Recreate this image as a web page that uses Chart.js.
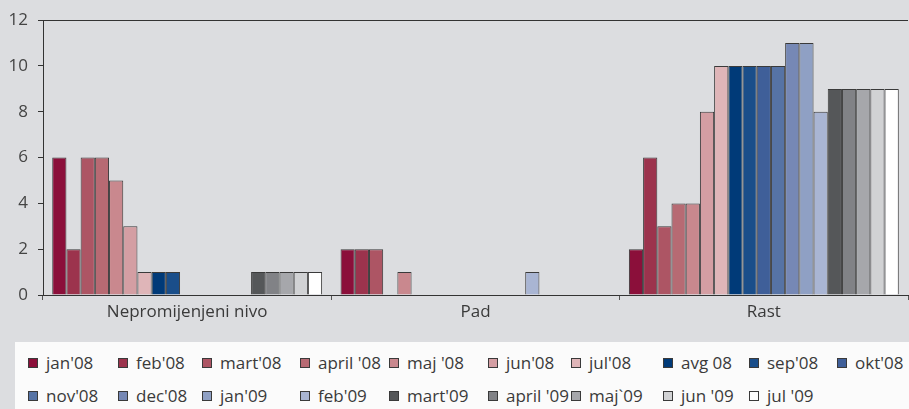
<!DOCTYPE html>
<html>
<head>
<meta charset="utf-8">
<script src="https://cdn.jsdelivr.net/npm/chart.js@4.4.1/dist/chart.umd.min.js"></script>
<style>
  html, body { margin: 0; padding: 0; background: #dcdde0; }
  body { width: 909px; height: 409px; overflow: hidden; position: relative; font-family: "Open Sans", sans-serif; }
  #wrap { position: absolute; left: 0; top: 0; width: 909px; height: 341px; }
  #legend { position: absolute; left: 15px; top: 342px; width: 894px; height: 67px; background: #fbfbfb; box-sizing: border-box; padding: 4px 0 0 13px; }
  #legend ul { list-style: none; margin: 0; padding: 0; display: grid;
    grid-template-columns: 90px 84px 98px 89px 99px 83px 92px 86px 88px 1fr; grid-auto-rows: 33px; }
  #legend li { display: flex; align-items: center; font-size: 17px; color: #3a3a3a; white-space: nowrap; }
  #legend li span.box { flex: 0 0 auto; display: inline-block; width: 8px; height: 8px; border: 1px solid #3a3a3a; margin-right: 8px; }
</style>
</head>
<body>
<div id="wrap"><canvas id="chart"></canvas></div>
<div id="legend"></div>
<script>
const categories = ['Nepromijenjeni nivo', 'Pad', 'Rast'];
const seriesNames = ["jan'08", "feb'08", "mart'08", "april '08", "maj '08", "jun'08", "jul'08", "avg 08", "sep'08", "okt'08",
                     "nov'08", "dec'08", "jan'09", "feb'09", "mart'09", "april '09", "maj`09", "jun '09", "jul '09"];
// values per series: [Nepromijenjeni nivo, Pad, Rast]
const jan08 = [6, 2, 2];
const feb08 = [2, 2, 6];
const mart08 = [6, 2, 3];
const april08 = [6, 0, 4];
const maj08 = [5, 1, 4];
const jun08 = [3, 0, 8];
const jul08 = [1, 0, 10];
const avg08 = [1, 0, 10];
const sep08 = [1, 0, 10];
const okt08 = [0, 0, 10];
const nov08 = [0, 0, 10];
const dec08 = [0, 0, 11];
const jan09 = [0, 0, 11];
const feb09 = [0, 1, 8];
const mart09 = [1, 0, 9];
const april09 = [1, 0, 9];
const maj09 = [1, 0, 9];
const jun09 = [1, 0, 9];
const jul09 = [1, 0, 9];
const yTicks = [0, 2, 4, 6, 8, 10, 12];

const seriesValues = [jan08, feb08, mart08, april08, maj08, jun08, jul08, avg08, sep08, okt08,
                      nov08, dec08, jan09, feb09, mart09, april09, maj09, jun09, jul09];
const colors = ['#8b0f3a', '#9c334d', '#ad5564', '#b76a73', '#c9888e', '#d49ea3', '#dfb5b8',
                '#003a78', '#1a4e8a', '#3f5f99', '#5673a5', '#7688b5', '#8fa0c4', '#a9b5d3',
                '#555759', '#818286', '#a6a7ab', '#d1d2d4', '#ffffff'];

const htmlLegend = {
  id: 'htmlLegend',
  afterUpdate(chart) {
    const box = document.getElementById('legend');
    box.innerHTML = '';
    const ul = document.createElement('ul');
    chart.data.datasets.forEach(ds => {
      const li = document.createElement('li');
      const sq = document.createElement('span');
      sq.className = 'box';
      sq.style.background = ds.backgroundColor;
      li.appendChild(sq);
      li.appendChild(document.createTextNode(ds.label));
      ul.appendChild(li);
    });
    box.appendChild(ul);
  }
};

const font = { family: '"Open Sans", sans-serif', size: 17 };

new Chart(document.getElementById('chart'), {
  type: 'bar',
  data: {
    labels: categories,
    datasets: seriesNames.map((name, i) => ({
      label: name,
      data: seriesValues[i],
      backgroundColor: colors[i],
      borderColor: '#3a3a3a',
      borderWidth: 1,
      categoryPercentage: 0.936,
      barPercentage: 1
    }))
  },
  options: {
    responsive: true,
    maintainAspectRatio: false,
    animation: false,
    layout: { padding: { top: 18, left: 0, right: 1, bottom: 0 } },
    plugins: { legend: { display: false }, tooltip: { enabled: false } },
    scales: {
      x: {
        grid: { drawOnChartArea: false, tickLength: 5, tickColor: '#555', offset: true },
        border: { color: '#333', width: 1 },
        ticks: { color: '#3a3a3a', font: font, padding: 2 },
        afterFit: s => { s.height = 46; }
      },
      y: {
        min: 0, max: 12,
        afterBuildTicks: s => { s.ticks = yTicks.map(v => ({ value: v })); },
        grid: {
          color: c => (c.tick && c.tick.value === 12) ? '#333' : 'rgba(0,0,0,0)',
          tickColor: '#333', tickLength: 5
        },
        border: { color: '#333', width: 1 },
        ticks: { color: '#444', font: font, padding: 10 },
        afterFit: s => { s.width = 43; }
      }
    }
  },
  plugins: [htmlLegend]
});
</script>
</body>
</html>
